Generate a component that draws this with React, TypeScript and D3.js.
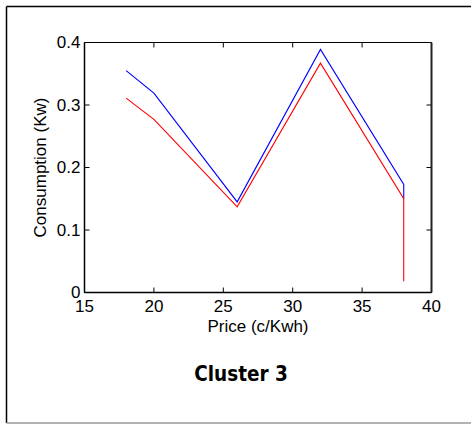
import React, { useRef, useEffect } from "react";
import * as d3 from "d3";

// price points (c/Kwh)
const priceBlue = [18, 20, 26, 32, 38, 38];
const consBlue = [0.355, 0.319, 0.145, 0.389, 0.173, 0.15];
const priceRed = [18, 20, 26, 32, 38, 38];
const consRed = [0.311, 0.277, 0.137, 0.367, 0.15, 0.018];
const xTicks = [15, 20, 25, 30, 35, 40];
const yTicks = [0, 0.1, 0.2, 0.3, 0.4];

const App = () => {
  const svgRef = useRef<SVGSVGElement>(null);

  useEffect(() => {
    const svg = d3.select(svgRef.current);
    svg.selectAll("*").remove();
    const width = 471;
    const height = 425;
    const margin = { left: 84.5, right: 39.5, top: 42.5, bottom: 132.5 };
    const font = "'Liberation Sans', Arial, sans-serif";

    // outer frame
    svg.append("line").attr("x1", 6.5).attr("x2", 6.5).attr("y1", 6.5).attr("y2", 423)
      .attr("stroke", "#000").attr("stroke-width", 1.5);
    svg.append("line").attr("x1", 6.5).attr("x2", width).attr("y1", 6.5).attr("y2", 6.5)
      .attr("stroke", "#000").attr("stroke-width", 1.5);
    svg.append("line").attr("x1", 6.5).attr("x2", width).attr("y1", 423).attr("y2", 423)
      .attr("stroke", "#9a9a9a").attr("stroke-width", 1.5);

    const xScale = d3.scaleLinear().domain([15, 40]).range([margin.left, width - margin.right]);
    const yScale = d3.scaleLinear().domain([0, 0.4]).range([height - margin.bottom, margin.top]);
    const [x0, x1] = xScale.range();
    const [y0, y1] = yScale.range();

    // ticks inside box, all four sides
    const tl = 5;
    xTicks.forEach((t) => {
      const x = xScale(t);
      svg.append("line").attr("x1", x).attr("x2", x).attr("y1", y0).attr("y2", y0 - tl)
        .attr("stroke", "#000").attr("stroke-width", 1);
      svg.append("line").attr("x1", x).attr("x2", x).attr("y1", y1).attr("y2", y1 + tl)
        .attr("stroke", "#000").attr("stroke-width", 1);
      svg.append("text").attr("x", x).attr("y", y0 + 19).attr("text-anchor", "middle")
        .attr("font-family", font).attr("font-size", 17).text(t);
    });
    yTicks.forEach((t) => {
      const y = yScale(t);
      svg.append("line").attr("x1", x0).attr("x2", x0 + tl).attr("y1", y).attr("y2", y)
        .attr("stroke", "#000").attr("stroke-width", 1);
      svg.append("line").attr("x1", x1).attr("x2", x1 - tl).attr("y1", y).attr("y2", y)
        .attr("stroke", "#000").attr("stroke-width", 1);
      svg.append("text").attr("x", x0 - 4).attr("y", y).attr("dy", "0.35em")
        .attr("text-anchor", "end").attr("font-family", font).attr("font-size", 17)
        .text(d3.format("")(t));
    });

    // box
    svg.append("line").attr("x1", x0).attr("x2", x1).attr("y1", y1).attr("y2", y1)
      .attr("stroke", "#000").attr("stroke-width", 1.2);
    svg.append("line").attr("x1", x0).attr("x2", x1).attr("y1", y0).attr("y2", y0)
      .attr("stroke", "#000").attr("stroke-width", 1.5);
    svg.append("line").attr("x1", x0).attr("x2", x0).attr("y1", y0).attr("y2", y1)
      .attr("stroke", "#000").attr("stroke-width", 1.5);
    svg.append("line").attr("x1", x1).attr("x2", x1).attr("y1", y0).attr("y2", y1)
      .attr("stroke", "#222").attr("stroke-width", 2);

    const line = d3.line<[number, number]>()
      .x((d) => xScale(d[0]))
      .y((d) => yScale(d[1]));

    svg.append("path")
      .attr("d", line(priceBlue.map((p, i) => [p, consBlue[i]]))!)
      .attr("fill", "none").attr("stroke", "#0000ff").attr("stroke-width", 1.1);
    svg.append("path")
      .attr("d", line(priceRed.map((p, i) => [p, consRed[i]]))!)
      .attr("fill", "none").attr("stroke", "#ff0000").attr("stroke-width", 1.1);

    // axis labels
    svg.append("text").attr("x", (x0 + x1) / 2).attr("y", y0 + 39)
      .attr("text-anchor", "middle").attr("font-family", font).attr("font-size", 17)
      .text("Price (c/Kwh)");
    svg.append("text")
      .attr("transform", `translate(46,${(y0 + y1) / 2}) rotate(-90)`)
      .attr("text-anchor", "middle").attr("font-family", font).attr("font-size", 17)
      .text("Consumption (Kw)");

    svg.append("text").attr("x", 241).attr("y", 380.5).attr("text-anchor", "middle")
      .attr("font-family", "'DejaVu Sans Condensed', 'DejaVu Sans', sans-serif")
      .attr("font-weight", "bold").attr("font-size", 20.5)
      .text("Cluster 3");
  }, []);

  return (
    <svg
      ref={svgRef}
      width={471}
      height={425}
      style={{ position: "absolute", left: 0, top: 0, background: "#fff" }}
    ></svg>
  );
};

export default App;
